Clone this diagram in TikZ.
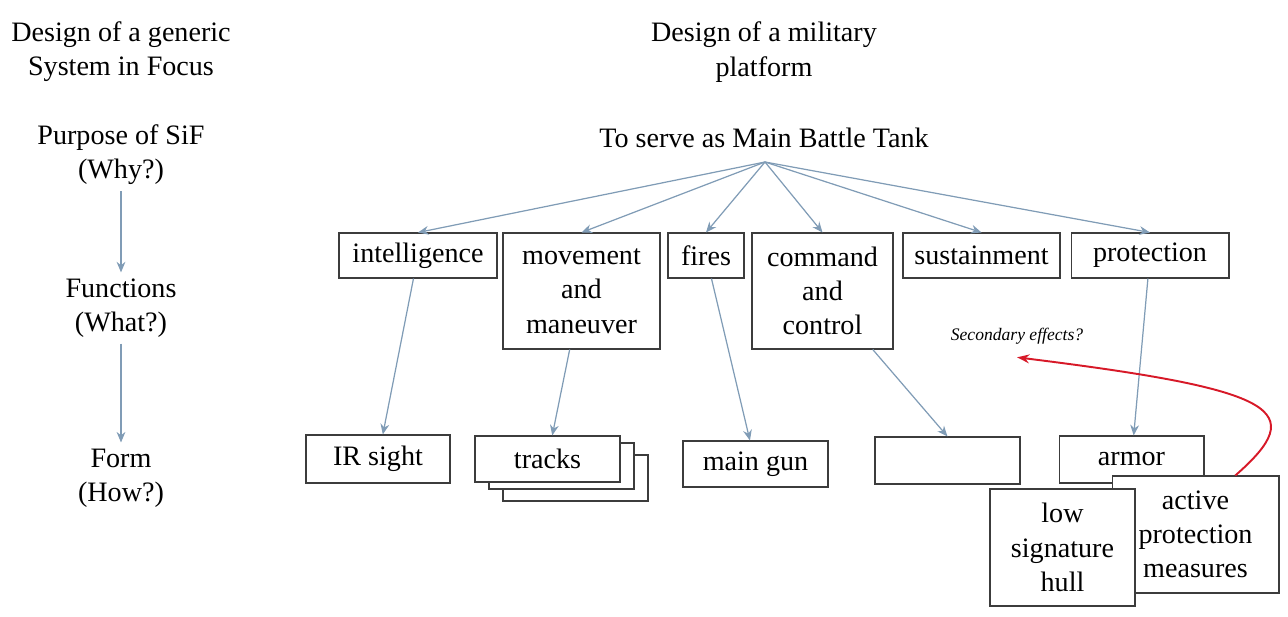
\documentclass[tikz,border=0pt]{standalone}
\usepackage{fontspec}
\setmainfont{Liberation Serif}
\usetikzlibrary{arrows.meta}
\definecolor{linkblue}{RGB}{128,156,182}
\definecolor{boxgray}{RGB}{60,60,60}
\definecolor{effred}{RGB}{215,25,40}

\begin{document}
\begin{tikzpicture}[x=0.02cm,y=-0.02cm,
  lbl/.style={align=center,font=\fontsize{16}{19.5}\selectfont},
  fbox/.style={draw=boxgray,fill=white,line width=0.6pt,align=center,inner sep=0,
    font=\fontsize{16}{19.5}\selectfont},
  link/.style={draw=linkblue,line width=0.7pt,-{Stealth[length=6pt,width=5pt]}}]
        \useasboundingbox (0,0) rectangle (1288,616);
        % left column
        \node[lbl] (gen) at (121,52) {Design of a generic\\System in Focus};
        \node[lbl] (why) at (121,155) {Purpose of SiF\\(Why?)};
        \node[lbl] (what) at (121,308) {Functions\\(What?)};
        \node[lbl] (how) at (121,478) {Form\\(How?)};
        \draw[link] (why) -- (what);
        \draw[link] (what) -- (how);
        % platform
        \node[lbl] (mil) at (764,52) {Design of a military\\platform};
        \node[lbl] (tank) at (764,138) {To serve as Main Battle Tank};
        \coordinate (root) at (765,162);
        % functions
        \node[fbox,minimum width=3.16cm,minimum height=0.9cm] (intel) at (418,255.5) {intelligence};
        \node[fbox,minimum width=3.14cm,minimum height=2.32cm] (move) at (581.5,291) {movement\\and\\maneuver};
        \node[fbox,minimum width=1.52cm,minimum height=0.9cm] (fires) at (706,255.5) {fires};
        \node[fbox,minimum width=2.82cm,minimum height=2.32cm] (cmd) at (822.5,291) {command\\and\\control};
        \node[fbox,minimum width=3.14cm,minimum height=0.9cm] (sust) at (981.5,255.5) {sustainment};
        \node[fbox,minimum width=3.16cm,minimum height=0.9cm] (prot) at (1150,255.5) {protection};
        \foreach \f in {intel,move,fires,cmd,sust,prot}
          \draw[link] (root) -- (\f.north);
        % form
        \node[fbox,minimum width=2.88cm,minimum height=0.96cm] (ir) at (378,459) {IR sight};
        \node[fbox,minimum width=2.9cm,minimum height=0.92cm] (tracks3) at (575.5,478) {};
        \node[fbox,minimum width=2.9cm,minimum height=0.92cm] (tracks2) at (561.5,466) {};
        \node[fbox,minimum width=2.9cm,minimum height=0.92cm] (tracks) at (547.5,459) {tracks};
        \node[fbox,minimum width=2.9cm,minimum height=0.92cm] (gun) at (755.5,464) {main gun};
        \node[fbox,minimum width=2.9cm,minimum height=0.94cm] (open) at (947.5,460.5) {};
        \node[fbox,minimum width=2.9cm,minimum height=0.94cm] (armor) at (1131.5,459.5) {armor};
        \node[fbox,minimum width=3.34cm,minimum height=2.34cm] (apm) at (1195.5,534.5) {active\\protection\\measures};
        \node[fbox,minimum width=2.9cm,minimum height=2.34cm] (lsh) at (1062.5,547.5) {low\\signature\\hull};
        \draw[link] (intel) -- (ir);
        \draw[link] (move) -- (tracks);
        \draw[link] (fires) -- (gun);
        \draw[link] (cmd) -- (open.north);
        \draw[link] (prot) -- (armor);
        % side effect
        \node[font=\fontsize{10}{12}\selectfont\itshape] (sec) at (1017,336) {Secondary effects?};
        \draw[effred,line width=1.1pt,-{Stealth[length=7pt,width=5pt]}]
          (apm.56) .. controls (1310,410) and (1280,390) .. ([yshift=-4pt]sec.south);
      \end{tikzpicture}
\end{document}
